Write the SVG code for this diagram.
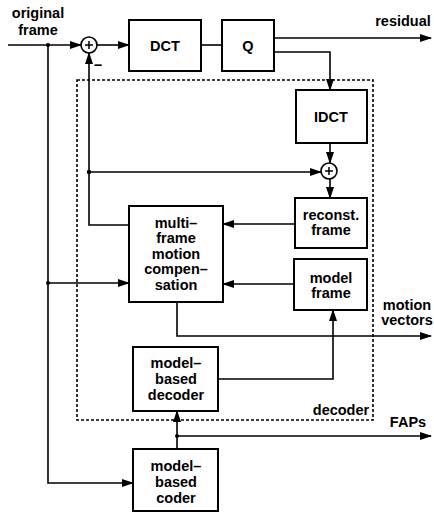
<svg xmlns="http://www.w3.org/2000/svg" width="434" height="512" viewBox="0 0 434 512">
<style>
.box{fill:#fff;stroke:#000;stroke-width:2}
.ln{fill:none;stroke:#000;stroke-width:1.6}
.t{font-family:"Liberation Sans",Arial,sans-serif;font-size:14.5px;font-weight:bold;fill:#000;text-anchor:middle}
.dash{fill:none;stroke:#000;stroke-width:1.6;stroke-dasharray:3,2}
</style>
<defs>
<marker id="ah" markerWidth="12" markerHeight="8" refX="11" refY="4" orient="auto" markerUnits="userSpaceOnUse">
<path d="M0,0 L12,4 L0,8 Z" fill="#000"/>
</marker>
</defs>
<rect class="dash" x="77" y="80" width="296" height="340"/>
<g id="connectors">
<path class="ln" d="M8,45 H81" marker-end="url(#ah)"/>
<path class="ln" d="M97,45 H129" marker-end="url(#ah)"/>
<path class="ln" d="M201,45 H222"/>
<path class="ln" d="M274,38 H431" marker-end="url(#ah)"/>
<path class="ln" d="M274,52 H330 V90" marker-end="url(#ah)"/>
<path class="ln" d="M330,143 V163" marker-end="url(#ah)"/>
<path class="ln" d="M330,179 V198" marker-end="url(#ah)"/>
<path class="ln" d="M89,172 H321" marker-end="url(#ah)"/>
<path class="ln" d="M295,224 H223" marker-end="url(#ah)"/>
<path class="ln" d="M294,284 H223" marker-end="url(#ah)"/>
<path class="ln" d="M129,225 H89 V53" marker-end="url(#ah)"/>
<path class="ln" d="M48,45 V483 H133" marker-end="url(#ah)"/>
<path class="ln" d="M48,283 H129" marker-end="url(#ah)"/>
<path class="ln" d="M177,302 V336 H431" marker-end="url(#ah)"/>
<path class="ln" d="M218,379 H333 V310" marker-end="url(#ah)"/>
<path class="ln" d="M177,449 V411" marker-end="url(#ah)"/>
<path class="ln" d="M177,436 H431" marker-end="url(#ah)"/>
<circle cx="48" cy="45" r="2"/>
<circle cx="89" cy="172" r="2.2"/>
<circle cx="48" cy="283" r="2"/>
<circle cx="177" cy="436" r="2"/>
</g>
<g id="sum1">
<circle cx="89" cy="45" r="8" fill="#fff" stroke="#000" stroke-width="1.6"/>
<path d="M85,45 H93 M89,41 V49" stroke="#000" stroke-width="1.5"/>
<text class="t" x="98" y="70">−</text>
</g>
<g id="sum2">
<circle cx="329" cy="171" r="8" fill="#fff" stroke="#000" stroke-width="1.6"/>
<path d="M325,171 H333 M329,167 V175" stroke="#000" stroke-width="1.5"/>
</g>
<g id="dct"><rect class="box" x="129" y="20" width="72" height="51"/><text class="t" x="165" y="51">DCT</text></g>
<g id="q"><rect class="box" x="222" y="20" width="52" height="51"/><text class="t" x="248" y="51">Q</text></g>
<g id="idct"><rect class="box" x="296" y="90" width="71" height="53"/><text class="t" x="331" y="122">IDCT</text></g>
<g id="reconst"><rect class="box" x="295" y="198" width="72" height="50"/><text class="t" x="331" y="220">reconst.</text><text class="t" x="331" y="235">frame</text></g>
<g id="modelframe"><rect class="box" x="294" y="259" width="73" height="51"/><text class="t" x="331" y="283">model</text><text class="t" x="331" y="298">frame</text></g>
<g id="mc"><rect class="box" x="129" y="206" width="94" height="96"/>
<text class="t" x="176" y="228">multi–</text><text class="t" x="176" y="243">frame</text><text class="t" x="176" y="259">motion</text><text class="t" x="176" y="274">compen–</text><text class="t" x="176" y="290">sation</text></g>
<g id="mbdecoder"><rect class="box" x="133" y="347" width="85" height="64"/>
<text class="t" x="176" y="368">model–</text><text class="t" x="176" y="384">based</text><text class="t" x="176" y="400">decoder</text></g>
<g id="mbcoder"><rect class="box" x="133" y="449" width="85" height="62"/>
<text class="t" x="176" y="471">model–</text><text class="t" x="176" y="487">based</text><text class="t" x="176" y="503">coder</text></g>
<g id="labels">
<text class="t" x="38" y="18">original</text><text class="t" x="38" y="35">frame</text>
<text class="t" x="403" y="26">residual</text>
<text class="t" x="407" y="310">motion</text><text class="t" x="407" y="325">vectors</text>
<text class="t" x="341" y="415">decoder</text>
<text class="t" x="408" y="427">FAPs</text>
</g>
</svg>
